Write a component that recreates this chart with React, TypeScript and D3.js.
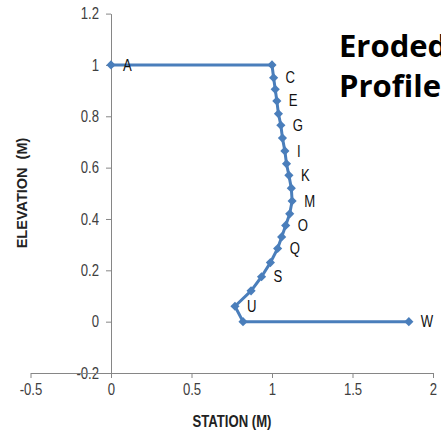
import React, { useRef, useEffect } from 'react';
import * as d3 from 'd3';

// survey points A..W along the eroded profile
const pointNames = ['A', 'B', 'C', 'D', 'E', 'F', 'G', 'H', 'I', 'J', 'K', 'L', 'M', 'N', 'O', 'P', 'Q', 'R', 'S', 'T', 'U', 'V', 'W'];
const station = [0, 1.0, 1.01, 1.02, 1.03, 1.04, 1.055, 1.065, 1.08, 1.09, 1.105, 1.12, 1.125, 1.11, 1.085, 1.06, 1.035, 0.99, 0.935, 0.87, 0.77, 0.82, 1.85];
const elevation = [1, 1, 0.95, 0.905, 0.86, 0.81, 0.765, 0.715, 0.665, 0.615, 0.57, 0.52, 0.47, 0.42, 0.375, 0.33, 0.285, 0.23, 0.175, 0.12, 0.06, 0, 0];
const labelled = ['A', 'C', 'E', 'G', 'I', 'K', 'M', 'O', 'Q', 'S', 'U', 'W'];
const xTicks = [-0.5, 0, 0.5, 1, 1.5, 2];
const yTicks = [-0.2, 0, 0.2, 0.4, 0.6, 0.8, 1, 1.2];
const titleLines = ['Eroded', 'Profile'];

function App() {
  const ref = useRef(null);

  useEffect(() => {
    const svg = d3.select(ref.current);
    svg.selectAll('*').remove();

    const x = d3.scaleLinear().domain([-0.5, 2]).range([30.5, 433]);
    const y = d3.scaleLinear().domain([-0.2, 1.2]).range([373, 13.6]);
    const sans = "'Liberation Sans', Arial, sans-serif";
    const squeeze = 0.82; // fake a narrow face, none is installed
    const axisColor = '#868686';
    const fmt = (d) => String(d);

    // y axis sits at station 0
    const gy = svg.append('g')
      .attr('transform', `translate(${x(0)},0)`)
      .call(d3.axisLeft(y).tickValues(yTicks).tickSize(5).tickSizeOuter(0).tickPadding(7).tickFormat(fmt));
    gy.select('.domain').attr('stroke', axisColor);
    gy.selectAll('.tick line').attr('stroke', axisColor);
    gy.selectAll('.tick text')
      .attr('fill', '#404040')
      .attr('x', -12 / squeeze)
      .attr('transform', `scale(${squeeze},1)`)
      .style('font-family', sans).style('font-size', '16px');

    // x axis crosses at elevation -0.2
    const gx = svg.append('g')
      .attr('transform', `translate(0,${y(-0.2)})`)
      .call(d3.axisBottom(x).tickValues(xTicks).tickSize(5).tickSizeOuter(0).tickPadding(6).tickFormat(fmt));
    gx.select('.domain').attr('stroke', axisColor);
    gx.selectAll('.tick line').attr('stroke', axisColor);
    gx.selectAll('.tick text')
      .attr('fill', '#404040')
      .attr('transform', `scale(${squeeze},1)`)
      .style('font-family', sans).style('font-size', '16px');

    svg.append('text')
      .attr('transform', `translate(232,427) scale(${squeeze},1)`)
      .attr('text-anchor', 'middle')
      .style('font-family', sans).style('font-size', '16px').style('font-weight', 'bold')
      .attr('fill', '#222')
      .text('STATION (M)');

    svg.append('text')
      .attr('transform', 'translate(27,193) rotate(-90)')
      .attr('text-anchor', 'middle')
      .style('font-family', sans).style('font-size', '14.5px').style('font-weight', 'bold')
      .attr('fill', '#222')
      .attr('xml:space', 'preserve')
      .text('ELEVATION  (M)');

    const pts = pointNames.map((n, i) => ({ n, sx: station[i], el: elevation[i] }));
    const blue = '#4a7ebb';

    svg.append('path')
      .datum(pts)
      .attr('fill', 'none')
      .attr('stroke', blue)
      .attr('stroke-width', 3)
      .attr('stroke-linejoin', 'round')
      .attr('d', d3.line().x((d) => x(d.sx)).y((d) => y(d.el)));

    const diamond = d3.symbol().type(d3.symbolSquare).size(42);
    svg.append('g').selectAll('path')
      .data(pts)
      .join('path')
      .attr('d', diamond)
      .attr('fill', blue)
      .attr('transform', (d) => `translate(${x(d.sx)},${y(d.el)}) rotate(45)`);

    svg.append('g').selectAll('text')
      .data(pts.filter((d) => labelled.includes(d.n)))
      .join('text')
      .attr('transform', (d) => `translate(${x(d.sx) + 12},${y(d.el)}) scale(${squeeze},1)`)
      .attr('dy', '0.35em')
      .style('font-family', sans).style('font-size', '16px')
      .attr('fill', '#111')
      .text((d) => d.n);

    svg.append('g').selectAll('text')
      .data(titleLines)
      .join('text')
      .attr('x', 339)
      .attr('y', (d, i) => 57 + i * 40)
      .style('font-family', "'Open Sans', sans-serif").style('font-size', '31px').style('font-weight', 'bold')
      .attr('fill', '#000')
      .text((d) => d);
  }, []);

  return (
    <svg ref={ref} width={441} height={437} style={{ position: 'absolute', left: 0, top: 0, background: '#fff' }} />
  );
}

export default App;
